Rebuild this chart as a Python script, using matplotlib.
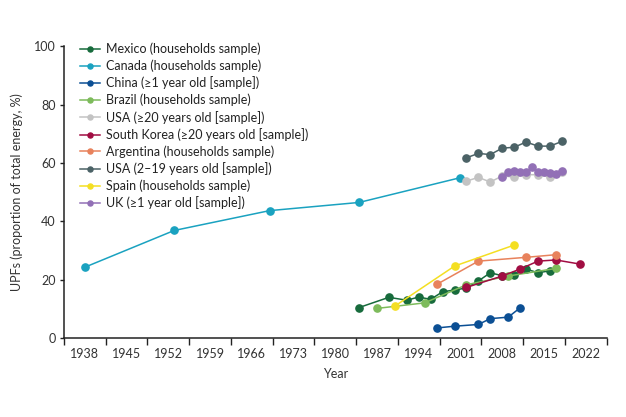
import numpy as np
import matplotlib
matplotlib.use('Agg')
import matplotlib.pyplot as plt

plt.rcParams['font.family'] = ['Lato', 'DejaVu Sans']

# data (year, % of total energy from UPFs)
mexico_yr = [1984, 1989, 1992, 1994, 1996, 1998, 2000, 2002, 2004, 2006, 2008, 2010, 2012, 2014, 2016]
mexico_val = [10.5, 14.0, 13.0, 14.1, 13.3, 15.9, 16.5, 17.2, 19.6, 22.4, 21.4, 21.7, 23.7, 22.4, 23.1]

canada_yr = [1938, 1953, 1969, 1984, 2001]
canada_val = [24.3, 36.9, 43.7, 46.5, 55.0]

china_yr = [1997, 2000, 2004, 2006, 2009, 2011]
china_val = [3.5, 4.1, 4.7, 6.7, 7.2, 10.4]

brazil_yr = [1987, 1995, 2002, 2009, 2017]
brazil_val = [10.2, 12.1, 18.3, 21.3, 23.9]

usa_adult_yr = [2002, 2004, 2006, 2008, 2010, 2012, 2014, 2016, 2018]
usa_adult_val = [53.8, 55.1, 53.5, 55.6, 55.2, 56.0, 56.0, 55.2, 57.0]

korea_yr = [2002, 2008, 2011, 2014, 2017, 2021]
korea_val = [17.4, 21.3, 23.7, 26.4, 26.8, 25.4]

argentina_yr = [1997, 2004, 2012, 2017]
argentina_val = [18.4, 26.4, 27.7, 28.6]

usa_youth_yr = [2002, 2004, 2006, 2008, 2010, 2012, 2014, 2016, 2018]
usa_youth_val = [61.8, 63.3, 62.9, 65.1, 65.4, 67.2, 65.8, 65.8, 67.4]

spain_yr = [1990, 2000, 2010]
spain_val = [11.0, 24.7, 31.9]

uk_yr = [2008, 2009, 2010, 2011, 2012, 2013, 2014, 2015, 2016, 2017, 2018]
uk_val = [55.2, 57.1, 57.4, 56.9, 56.9, 58.6, 56.8, 56.8, 56.5, 56.2, 57.4]

series = [
    ('Mexico (households sample)', mexico_yr, mexico_val, '#176b3c'),
    ('Canada (households sample)', canada_yr, canada_val, '#1aa2c0'),
    ('China (≥1 year old [sample])', china_yr, china_val, '#0b4f94'),
    ('Brazil (households sample)', brazil_yr, brazil_val, '#7dbb5b'),
    ('USA (≥20 years old [sample])', usa_adult_yr, usa_adult_val, '#c3c3c3'),
    ('South Korea (≥20 years old [sample])', korea_yr, korea_val, '#a10d42'),
    ('Argentina (households sample)', argentina_yr, argentina_val, '#e8825c'),
    ('USA (2–19 years old [sample])', usa_youth_yr, usa_youth_val, '#4b6266'),
    ('Spain (households sample)', spain_yr, spain_val, '#f4df22'),
    ('UK (≥1 year old [sample])', uk_yr, uk_val, '#9270b6'),
]

year_labels = np.arange(1938, 2023, 7)

fig = plt.figure(figsize=(6.26, 4.17), dpi=100)
ax = fig.add_axes([0.102, 0.189, 0.867, 0.700])

for name, x, y, c in series:
    ax.plot(x, y, '-o', color=c, lw=1.1, ms=5.2, label=name)

ax.set_xlim(1934.5, 2025.5)
ax.set_ylim(0, 100)
ax.set_xticks(year_labels)
ax.set_xticklabels([str(v) for v in year_labels])
ax.set_xticks(np.arange(1934.5, 2026, 7), minor=True)
ax.tick_params(axis='x', which='major', length=0, labelsize=9, pad=7, colors='#333333')
ax.tick_params(axis='x', which='minor', length=5, width=1, direction='out', color='#222222')
ax.set_yticks(np.arange(0, 101, 20))
ax.tick_params(axis='y', length=3, width=1, labelsize=9, colors='#333333', pad=3)
ax.tick_params(axis='both', color='#222222')

for s in ['top', 'right']:
    ax.spines[s].set_visible(False)
for s in ['left', 'bottom']:
    ax.spines[s].set_linewidth(1.1)
    ax.spines[s].set_color('#222222')

ax.set_xlabel('Year', fontsize=9, color='#333333', labelpad=6)
ax.set_ylabel('UPFs (proportion of total energy, %)', fontsize=9, color='#333333', labelpad=8)

ax.legend(loc='upper left', bbox_to_anchor=(0.02, 1.03), frameon=False, fontsize=9,
          handlelength=1.6, handletextpad=0.5, labelspacing=0.35, markerscale=0.7,
          borderaxespad=0, labelcolor='#222222')

fig.savefig('out.png', dpi=100)
